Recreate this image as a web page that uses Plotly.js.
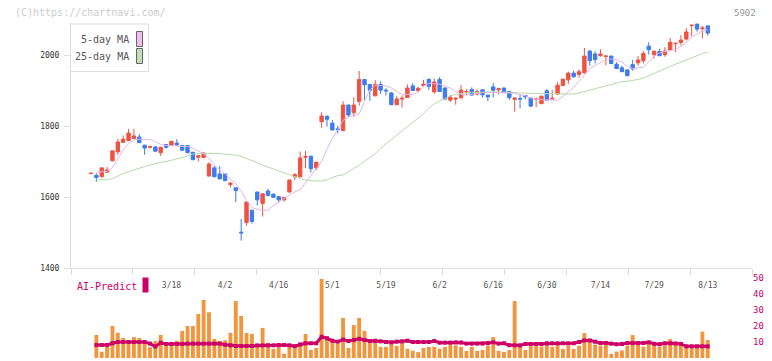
<!DOCTYPE html>
<html><head><meta charset="utf-8">
<script src="https://cdn.plot.ly/plotly-3.0.1.min.js"></script>
<style>html,body{margin:0;padding:0;background:#fff}#chart{width:772px;height:361px}</style>
</head><body><div id="chart"></div>
<script>
const tickIdx = [15,25,35,45,55,65,75,85,95,105,115];
const tickLabels = ['3/18','4/2','4/16','5/1','5/19','6/2','6/16','6/30','7/14','7/29','8/13'];

const open = [1666,1661,1657,1670,1702,1727,1754,1759,1765,1769,1746,1740,1741,1725,1748,1746,1752,1745,1745,1726,
1712,1711,1659,1682,1665,1665,1635,1626,1501,1528,1563,1614,1582,1617,1608,1601,1592,1614,1657,1657,
1712,1715,1682,1812,1827,1808,1792,1787,1859,1838,1869,1931,1917,1885,1917,1901,1893,1860,1876,1880,
1913,1900,1914,1931,1896,1931,1907,1873,1876,1880,1896,1903,1890,1902,1887,1910,1902,1907,1897,1875,
1877,1886,1879,1875,1863,1899,1876,1890,1914,1930,1949,1945,1950,2011,2003,1998,1996,1997,1974,1964,
1958,1973,1978,1984,2025,2001,2010,2001,2014,2032,2035,2045,2083,2087,2074,2082];
const high = [1667,1667,1683,1685,1730,1764,1773,1792,1792,1777,1747,1745,1743,1742,1749,1757,1763,1746,1746,1727,
1717,1725,1698,1687,1687,1666,1642,1626,1538,1586,1563,1615,1610,1623,1610,1602,1600,1648,1667,1728,
1730,1716,1699,1839,1831,1817,1800,1870,1860,1881,1955,1932,1918,1929,1926,1906,1896,1884,1886,1917,
1921,1911,1930,1935,1934,1938,1908,1887,1881,1915,1904,1909,1903,1903,1888,1921,1908,1908,1898,1880,
1887,1887,1880,1877,1885,1904,1901,1924,1933,1953,1956,1960,2020,2014,2010,2016,1998,1998,1980,1970,
1960,1986,1997,2011,2036,2011,2017,2022,2048,2033,2056,2076,2084,2088,2082,2083];
const low = [1666,1643,1656,1669,1700,1719,1752,1757,1763,1752,1719,1736,1728,1716,1736,1744,1744,1730,1723,1704,
1700,1710,1658,1656,1650,1645,1627,1586,1477,1519,1525,1576,1545,1602,1598,1584,1587,1613,1648,1655,
1681,1669,1676,1795,1798,1787,1779,1786,1826,1826,1857,1873,1871,1884,1890,1886,1859,1859,1852,1879,
1899,1896,1911,1901,1891,1896,1873,1868,1860,1875,1887,1886,1886,1880,1870,1880,1889,1893,1873,1840,
1849,1875,1853,1853,1862,1872,1875,1889,1913,1918,1936,1936,1948,1970,1976,1995,1971,1975,1961,1952,
1939,1956,1970,1976,2001,1990,1997,1995,2013,2008,2027,2041,2053,2066,2047,2055];
const close = [1667,1655,1682,1676,1730,1755,1763,1780,1772,1753,1738,1742,1729,1740,1740,1757,1747,1732,1725,1705,
1716,1724,1693,1657,1651,1646,1639,1618,1499,1586,1531,1592,1609,1604,1599,1592,1599,1648,1663,1710,
1714,1680,1698,1828,1819,1789,1790,1859,1831,1859,1931,1916,1901,1917,1901,1899,1860,1876,1878,1907,
1900,1906,1918,1912,1924,1897,1876,1881,1878,1901,1897,1887,1897,1888,1882,1901,1905,1894,1880,1879,
1876,1882,1856,1876,1884,1873,1878,1915,1932,1949,1939,1953,1997,1984,1987,2003,1997,1976,1962,1953,
1942,1961,1986,2004,2015,2011,1998,2011,2036,2033,2042,2065,2084,2073,2076,2062];

const ma5 = [null,1670,1670,1672,1683,1708,1733,1750,1761,1763,1763,1762,1756,1748,1745,1744,1744,1744,1742,1737,
1730,1722,1709,1690,1676,1665,1650,1638,1617,1590,1570,1565,1562,1563,1576,1586,1595,1605,1615,1620,
1640,1658,1680,1700,1735,1765,1790,1816,1825,1830,1834,1870,1902,1915,1915,1913,1907,1897,1889,1889,
1889,1895,1913,1920,1920,1918,1912,1907,1897,1889,1887,1890,1892,1894,1895,1895,1895,1895,1893,1892,
1889,1885,1879,1875,1874,1873,1873,1873,1884,1896,1909,1926,1945,1962,1970,1978,1988,1989,1986,1980,
1968,1962,1964,1966,1980,1996,2006,2010,2012,2016,2024,2035,2050,2060,2068,2071];
const ma25 = [null,1648,1648,1649,1652,1660,1666,1671,1677,1681,1686,1690,1695,1698,1700,1703,1706,1711,1716,1721,
1722,1723,1723,1723,1722,1721,1720,1718,1714,1709,1703,1697,1690,1684,1679,1673,1668,1663,1657,1652,
1648,1646,1645,1645,1648,1655,1660,1662,1670,1680,1690,1700,1712,1722,1737,1750,1762,1774,1786,1798,
1812,1824,1835,1850,1862,1870,1877,1885,1889,1892,1893,1894,1895,1896,1896,1896,1896,1896,1895,1894,
1893,1892,1892,1891,1891,1891,1891,1890,1890,1890,1890,1893,1897,1902,1906,1910,1915,1918,1921,1925,
1926,1928,1931,1935,1942,1948,1955,1961,1968,1974,1980,1987,1993,1999,2004,2008];

const volume = [0,14.4,3.9,7.1,20,15.8,12.5,10.6,13.1,12.5,10.6,6.8,10.6,14.4,8.5,8.5,10.7,16.9,20,20,
27.5,36.3,28.6,11.9,10.7,11.1,15.7,35.6,26.3,15.7,15,7.3,18.8,9.5,5.6,8.3,2.7,7.6,7,9.4,
15,5,6.3,49.4,13.6,10.8,8.75,25,6.3,20.6,25,16.9,9.3,12.2,6.9,6.9,10,7.5,9.4,5.8,
4.5,3.7,6.25,7,7,5.8,7,8.3,7.9,7,4.4,7,4.5,5,7.7,13.1,4.5,3.75,5,35.6,
7.1,5,7.7,7.7,7.1,8.5,7,8.5,5.7,7.9,5.7,7.7,15.6,11.3,8.4,7.7,8.3,2.6,4,4.7,
7.7,14.3,8.9,7.1,8.9,7.9,7,8,11.9,9.5,8.5,7.9,6.8,6.8,16.5,11.25];
const predict = [null,8.1,8.1,8.1,9.2,10,10,10,10,10,10,9,7.2,9.5,8.8,8.8,8.8,8.8,9,9,
9,9,9,9,9,8.3,7.9,7.5,7.5,7.5,7.5,7.9,7.9,7.9,7.9,8.1,8.1,7.9,7.4,8.5,
9.2,9.2,9.2,13.3,12.3,10.8,10.2,11.5,10.6,11.2,12,11.2,10.6,10.6,10.4,10,9.8,10.2,10.4,10.8,
10,10,10,10,10.6,9.6,9.6,9.6,9.8,9.7,9,9,9,9,9.3,9.8,9,9.2,8,7.9,
7.9,8.75,8.75,8.75,8.75,9.2,9.2,9.2,9.2,9.2,9.2,10,11,11,10.2,9.4,9.4,9,8.6,8.8,
9.3,9.3,9.3,9.4,9.8,8.9,8.6,9.2,9.2,9.1,8.8,7.3,7.3,7.3,7.3,7.3];

const idx = close.map((_, i) => i);
const RED = '#ef5340', BLUE = '#3d7bee', ORANGE = '#f2963e', MAG = '#cc0066';
const MONO = 'DejaVu Sans Mono, monospace';

// plot area geometry (pixels)
const W = 772, H = 361, L = 71, R = 20, T = 23, B = 3;
const pw = W - L - R, ph = H - T - B;
const px = x => (x - L) / pw;
const py = y => (H - B - y) / ph;

const xr = [-3.73, 123.25];
const gridTicks = [];
for (let k = 0; k <= 11; k++) gridTicks.push(xr[0] + k * (xr[1] - xr[0]) / 11);

const traces = [
  {type:'bar', x: idx, y: volume, xaxis:'x', yaxis:'y2', marker:{color: ORANGE}, hoverinfo:'skip'},
  {type:'scatter', mode:'lines+markers', x: idx, y: predict, xaxis:'x', yaxis:'y2',
   line:{color: MAG, width: 3}, marker:{symbol:'square', size:4, color: MAG}, hoverinfo:'skip'},
  {type:'scatter', mode:'lines', x: idx, y: ma25, xaxis:'x', yaxis:'y', line:{color:'#b4dcaa', width:1}, hoverinfo:'skip'},
  {type:'scatter', mode:'lines', x: idx, y: ma5, xaxis:'x', yaxis:'y', line:{color:'#e6b4e6', width:1}, hoverinfo:'skip'},
  {type:'candlestick', x: idx, open: open, high: high, low: low, close: close, xaxis:'x', yaxis:'y',
   increasing:{line:{color: RED, width:1}, fillcolor: RED},
   decreasing:{line:{color: BLUE, width:1}, fillcolor: BLUE},
   whiskerwidth: 0, hoverinfo:'skip'}
];

const layout = {
  width: W, height: H, margin:{l:L, r:R, t:T, b:B}, showlegend:false,
  paper_bgcolor:'#fff', plot_bgcolor:'#fff', boxgap: 0.1, bargap: 0.28,
  font:{family: MONO, color:'#555'},
  xaxis:{range: xr, anchor:'y', showline:true, linecolor:'#dddddd', linewidth:1, showgrid:false, zeroline:false,
    tickmode:'array', tickvals: tickIdx, ticktext: tickLabels, ticks:'outside', ticklen:9, tickcolor:'rgba(0,0,0,0)',
    tickfont:{family: MONO, size:8, color:'#555'},
    minor:{tickmode:'array', tickvals: gridTicks, ticks:'outside', ticklen:6, tickcolor:'#dddddd', tickwidth:1, showgrid:false},
    rangeslider:{visible:false}, fixedrange:true},
  yaxis:{domain:[py(268), 1], range:[1400, 1400 + (268 - T) * 200 / 71], anchor:'x',
    tickmode:'array', tickvals:[1400,1600,1800,2000], ticks:'outside', ticklen:6, tickcolor:'#dddddd',
    showline:true, linecolor:'#dddddd', linewidth:1, showgrid:false, zeroline:false, ticklabelstandoff:3,
    tickfont:{family: MONO, size:8, color:'#333'}, fixedrange:true},
  yaxis2:{domain:[0, py(278)], range:[0,50], anchor:'x', side:'right',
    tickmode:'array', tickvals:[0,10,20,30,40,50], ticks:'', showline:false, showgrid:false, zeroline:false,
    tickfont:{family: MONO, size:9, color: MAG}, fixedrange:true},
  shapes:[
    {type:'rect', xref:'paper', yref:'paper', x0:px(70.5), x1:px(148.5), y0:py(24), y1:py(71.5),
     line:{color:'#dddddd', width:1}, fillcolor:'#fff', layer:'above'},
    {type:'rect', xref:'paper', yref:'paper', x0:px(136.5), x1:px(142.5), y0:py(31.5), y1:py(46.5),
     line:{color:'#666', width:1}, fillcolor:'#eebfee', layer:'above'},
    {type:'rect', xref:'paper', yref:'paper', x0:px(136.5), x1:px(142.5), y0:py(48.5), y1:py(63.5),
     line:{color:'#666', width:1}, fillcolor:'#bfe0b4', layer:'above'},
    {type:'rect', xref:'paper', yref:'paper', x0:px(142.5), x1:px(148.5), y0:py(277.5), y1:py(292.5),
     line:{width:0}, fillcolor: MAG, layer:'above'}
  ],
  annotations:[
    {text:'(C)https://chartnavi.com/', xref:'paper', yref:'paper', x:px(13), y:py(12.5), xanchor:'left', yanchor:'middle',
     showarrow:false, font:{family: MONO, size:10, color:'#cccccc'}},
    {text:'5902', xref:'paper', yref:'paper', x:px(758), y:py(12.5), xanchor:'right', yanchor:'middle',
     showarrow:false, font:{family: MONO, size:9, color:'#999'}},
    {text:'5-day MA', xref:'paper', yref:'paper', x:px(131), y:py(39), xanchor:'right', yanchor:'middle',
     showarrow:false, font:{family: MONO, size:10, color:'#555'}},
    {text:'25-day MA', xref:'paper', yref:'paper', x:px(131), y:py(56.5), xanchor:'right', yanchor:'middle',
     showarrow:false, font:{family: MONO, size:10, color:'#555'}},
    {text:'AI-Predict', xref:'paper', yref:'paper', x:px(75), y:py(286), xanchor:'left', yanchor:'middle',
     showarrow:false, font:{family: MONO, size:10, color: MAG}}
  ]
};

Plotly.newPlot('chart', traces, layout, {staticPlot:true, displayModeBar:false});
</script>
</body></html>
